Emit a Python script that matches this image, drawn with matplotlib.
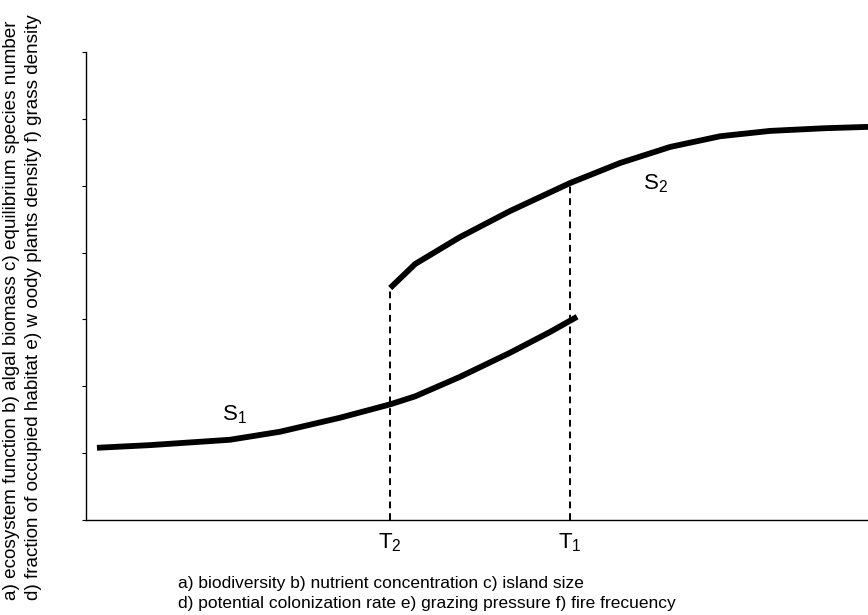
import matplotlib
matplotlib.use("Agg")
import matplotlib.pyplot as plt

plt.rcParams['font.family'] = ['Liberation Sans', 'DejaVu Sans']
plt.rcParams['mathtext.fontset'] = 'custom'
plt.rcParams['mathtext.rm'] = 'Liberation Sans'
plt.rcParams['mathtext.it'] = 'Liberation Sans'

# curve S1 (lower branch)
s1_x = [0.14, 0.82, 1.84, 2.48, 3.25, 3.89, 4.21, 4.78, 5.42, 5.93, 6.28]
s1_y = [1.08, 1.12, 1.20, 1.32, 1.53, 1.73, 1.85, 2.14, 2.50, 2.81, 3.04]
# curve S2 (upper branch)
s2_x = [3.89, 4.21, 4.78, 5.42, 6.19, 6.83, 7.47, 8.11, 8.75, 9.45, 10.0]
s2_y = [3.47, 3.83, 4.23, 4.62, 5.04, 5.34, 5.58, 5.74, 5.82, 5.86, 5.88]
# thresholds
t_x = [3.89, 6.19]
t_top = [3.47, 5.04]
t_labels = ['T$_2$', 'T$_1$']

ylabel = ("a) ecosystem function b) algal biomass c) equilibrium species number\n"
          "d) fraction of occupied habitat e) w oody plants density f) grass density")
xlabel = ("a) biodiversity b) nutrient concentration c) island size\n"
          "d) potential colonization rate e) grazing pressure f) fire frecuency")

fig = plt.figure(figsize=(8.68, 6.15), dpi=100)
ax = fig.add_axes([86 / 868, 95 / 615, 782 / 868, 468 / 615])

ax.plot(s1_x, s1_y, color='black', lw=4.2, solid_capstyle='butt')
ax.plot(s2_x, s2_y, color='black', lw=4.2, solid_capstyle='butt')
for x, top in zip(t_x, t_top):
    ax.plot([x, x], [0, top], color='black', lw=1.4, ls=(0, (3.5, 2.5)))

ax.text(1.9, 1.58, 'S$_1$', fontsize=16, ha='center', va='center')
ax.text(7.28, 5.03, 'S$_2$', fontsize=16, ha='center', va='center')

ax.set_xlim(0, 10)
ax.set_ylim(0, 7)
ax.set_yticks(range(0, 8))
ax.set_yticklabels([])
ax.set_xticks(t_x)
ax.set_xticklabels(t_labels, fontsize=16)
ax.tick_params(axis='x', length=0, pad=8)
ax.tick_params(axis='y', length=3, width=0.8)
ax.spines['top'].set_visible(False)
ax.spines['right'].set_visible(False)
ax.spines['left'].set_linewidth(1.0)
ax.spines['bottom'].set_linewidth(1.0)

fig.text(178 / 868, 0.006, xlabel, fontsize=12.5, ha='left', va='bottom', linespacing=1.45)
fig.text(0.004, 0.5, ylabel, fontsize=13.6, rotation=90, ha='left', va='center', linespacing=1.38)

fig.savefig("out.png", dpi=100)
